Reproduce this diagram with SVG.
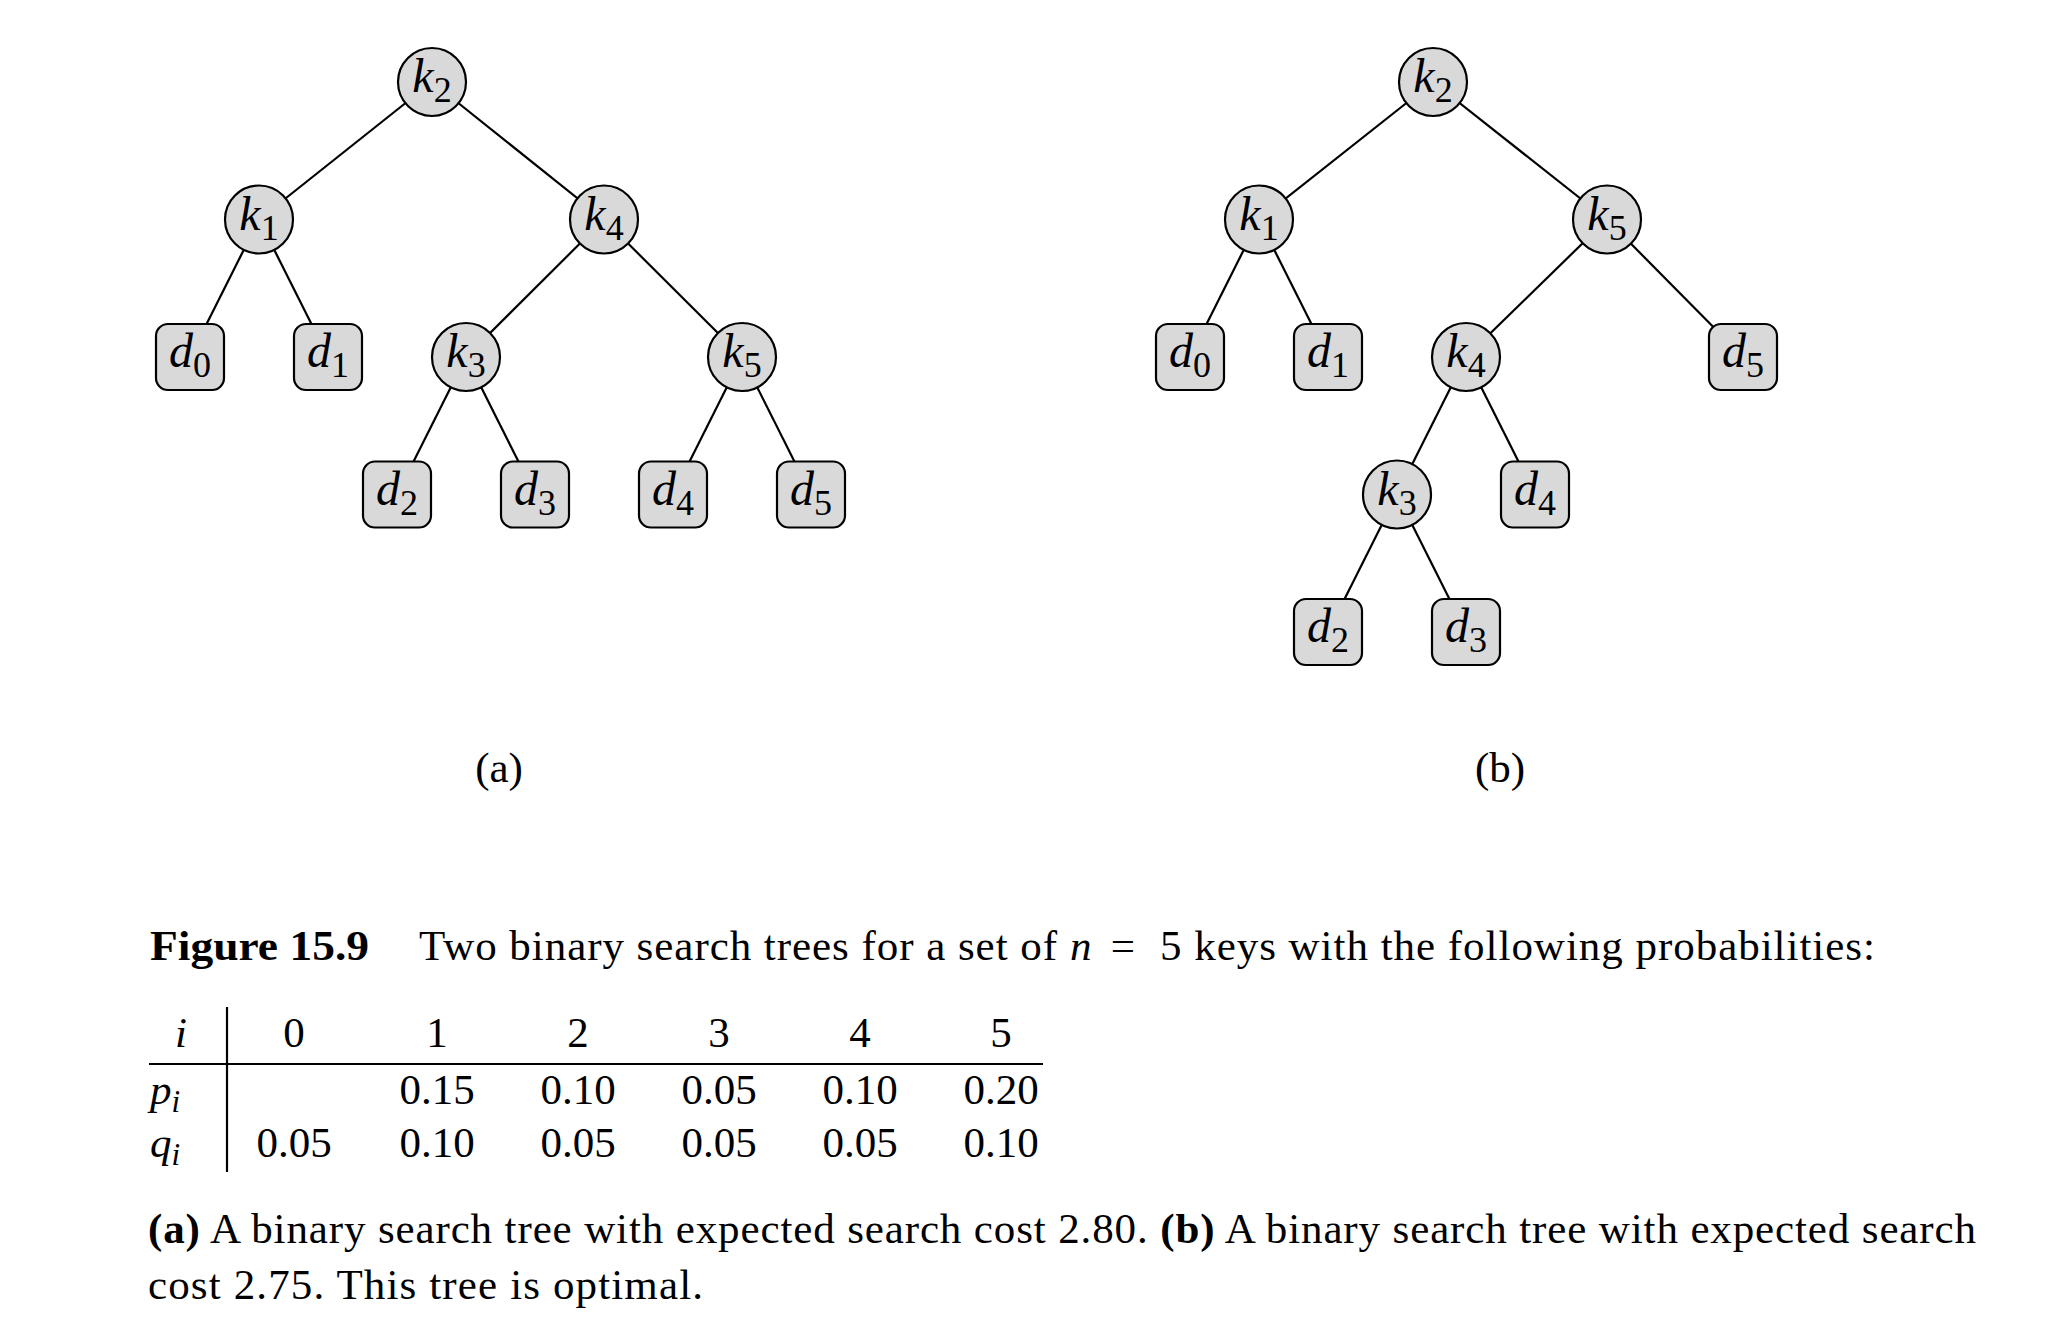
<svg xmlns="http://www.w3.org/2000/svg" width="2052" height="1332" viewBox="0 0 2052 1332">
<style>
.edge{stroke:#000;stroke-width:2.2;fill:none}
.kn{fill:#d9d9d9;stroke:#000;stroke-width:2.2}
.dn{fill:#d9d9d9;stroke:#000;stroke-width:2.2}
.lbl{font-family:'Liberation Serif','Times New Roman',Times,serif;font-size:48px;font-style:italic;text-anchor:middle;fill:#000}
.sub{font-style:normal;font-size:36px}
.t{font-family:'Liberation Serif','Times New Roman',Times,serif;font-size:43px;fill:#000}
.c{text-anchor:middle}
.it{font-style:italic}
.b{font-weight:bold}
.tsub{font-size:31px;font-style:italic}
.rule{stroke:#000;stroke-width:2.2}
</style>
<rect width="2052" height="1332" fill="#fff"/>
<g id="connectors">
<line class="edge" x1="432" y1="82" x2="259" y2="219.5"/>
<line class="edge" x1="432" y1="82" x2="604" y2="219.5"/>
<line class="edge" x1="259" y1="219.5" x2="190" y2="357"/>
<line class="edge" x1="259" y1="219.5" x2="328" y2="357"/>
<line class="edge" x1="604" y1="219.5" x2="466" y2="357"/>
<line class="edge" x1="604" y1="219.5" x2="742" y2="357"/>
<line class="edge" x1="466" y1="357" x2="397" y2="494.5"/>
<line class="edge" x1="466" y1="357" x2="535" y2="494.5"/>
<line class="edge" x1="742" y1="357" x2="673" y2="494.5"/>
<line class="edge" x1="742" y1="357" x2="811" y2="494.5"/>
<line class="edge" x1="1433" y1="82" x2="1259" y2="219.5"/>
<line class="edge" x1="1433" y1="82" x2="1607" y2="219.5"/>
<line class="edge" x1="1259" y1="219.5" x2="1190" y2="357"/>
<line class="edge" x1="1259" y1="219.5" x2="1328" y2="357"/>
<line class="edge" x1="1607" y1="219.5" x2="1466" y2="357"/>
<line class="edge" x1="1607" y1="219.5" x2="1743" y2="357"/>
<line class="edge" x1="1466" y1="357" x2="1397" y2="494.5"/>
<line class="edge" x1="1466" y1="357" x2="1535" y2="494.5"/>
<line class="edge" x1="1397" y1="494.5" x2="1328" y2="632"/>
<line class="edge" x1="1397" y1="494.5" x2="1466" y2="632"/>
</g>
<g id="tree-a">
<g id="a-k2"><circle class="kn" cx="432" cy="82" r="34"/><text class="lbl" x="432" y="92">k<tspan class="sub" dy="10">2</tspan></text></g>
<g id="a-k1"><circle class="kn" cx="259" cy="219.5" r="34"/><text class="lbl" x="259" y="229.5">k<tspan class="sub" dy="10">1</tspan></text></g>
<g id="a-k4"><circle class="kn" cx="604" cy="219.5" r="34"/><text class="lbl" x="604" y="229.5">k<tspan class="sub" dy="10">4</tspan></text></g>
<g id="a-d0"><rect class="dn" x="156" y="324" width="68" height="66" rx="12"/><text class="lbl" x="190" y="367">d<tspan class="sub" dy="10">0</tspan></text></g>
<g id="a-d1"><rect class="dn" x="294" y="324" width="68" height="66" rx="12"/><text class="lbl" x="328" y="367">d<tspan class="sub" dy="10">1</tspan></text></g>
<g id="a-k3"><circle class="kn" cx="466" cy="357" r="34"/><text class="lbl" x="466" y="367">k<tspan class="sub" dy="10">3</tspan></text></g>
<g id="a-k5"><circle class="kn" cx="742" cy="357" r="34"/><text class="lbl" x="742" y="367">k<tspan class="sub" dy="10">5</tspan></text></g>
<g id="a-d2"><rect class="dn" x="363" y="461.5" width="68" height="66" rx="12"/><text class="lbl" x="397" y="504.5">d<tspan class="sub" dy="10">2</tspan></text></g>
<g id="a-d3"><rect class="dn" x="501" y="461.5" width="68" height="66" rx="12"/><text class="lbl" x="535" y="504.5">d<tspan class="sub" dy="10">3</tspan></text></g>
<g id="a-d4"><rect class="dn" x="639" y="461.5" width="68" height="66" rx="12"/><text class="lbl" x="673" y="504.5">d<tspan class="sub" dy="10">4</tspan></text></g>
<g id="a-d5"><rect class="dn" x="777" y="461.5" width="68" height="66" rx="12"/><text class="lbl" x="811" y="504.5">d<tspan class="sub" dy="10">5</tspan></text></g>
</g>
<g id="tree-b">
<g id="b-k2"><circle class="kn" cx="1433" cy="82" r="34"/><text class="lbl" x="1433" y="92">k<tspan class="sub" dy="10">2</tspan></text></g>
<g id="b-k1"><circle class="kn" cx="1259" cy="219.5" r="34"/><text class="lbl" x="1259" y="229.5">k<tspan class="sub" dy="10">1</tspan></text></g>
<g id="b-k5"><circle class="kn" cx="1607" cy="219.5" r="34"/><text class="lbl" x="1607" y="229.5">k<tspan class="sub" dy="10">5</tspan></text></g>
<g id="b-d0"><rect class="dn" x="1156" y="324" width="68" height="66" rx="12"/><text class="lbl" x="1190" y="367">d<tspan class="sub" dy="10">0</tspan></text></g>
<g id="b-d1"><rect class="dn" x="1294" y="324" width="68" height="66" rx="12"/><text class="lbl" x="1328" y="367">d<tspan class="sub" dy="10">1</tspan></text></g>
<g id="b-k4"><circle class="kn" cx="1466" cy="357" r="34"/><text class="lbl" x="1466" y="367">k<tspan class="sub" dy="10">4</tspan></text></g>
<g id="b-d5"><rect class="dn" x="1709" y="324" width="68" height="66" rx="12"/><text class="lbl" x="1743" y="367">d<tspan class="sub" dy="10">5</tspan></text></g>
<g id="b-k3"><circle class="kn" cx="1397" cy="494.5" r="34"/><text class="lbl" x="1397" y="504.5">k<tspan class="sub" dy="10">3</tspan></text></g>
<g id="b-d4"><rect class="dn" x="1501" y="461.5" width="68" height="66" rx="12"/><text class="lbl" x="1535" y="504.5">d<tspan class="sub" dy="10">4</tspan></text></g>
<g id="b-d2"><rect class="dn" x="1294" y="599" width="68" height="66" rx="12"/><text class="lbl" x="1328" y="642">d<tspan class="sub" dy="10">2</tspan></text></g>
<g id="b-d3"><rect class="dn" x="1432" y="599" width="68" height="66" rx="12"/><text class="lbl" x="1466" y="642">d<tspan class="sub" dy="10">3</tspan></text></g>
</g>
<g id="labels">
<text class="t c" x="499" y="782">(a)</text>
<text class="t c" x="1500" y="782">(b)</text>
</g>
<g id="caption">
<text class="t b" x="150" y="960" textLength="219" lengthAdjust="spacingAndGlyphs">Figure 15.9</text>
<text class="t" x="419" y="960" textLength="638">Two binary search trees for a set of</text>
<text class="t it" x="1070" y="960">n</text>
<text class="t c" x="1123" y="960">=</text>
<text class="t" x="1160" y="960" textLength="715">5 keys with the following probabilities:</text>
<text class="t" x="148" y="1243" textLength="1828"><tspan class="b">(a)</tspan> A binary search tree with expected search cost 2.80. <tspan class="b">(b)</tspan> A binary search tree with expected search</text>
<text class="t" x="148" y="1299" textLength="555">cost 2.75. This tree is optimal.</text>
</g>
<g id="table">
<line class="rule" x1="227" y1="1007" x2="227" y2="1172"/>
<line class="rule" x1="149" y1="1064" x2="1043" y2="1064"/>
<text class="t it c" x="181" y="1047">i</text>
<text class="t c" x="294" y="1047">0</text>
<text class="t c" x="437" y="1047">1</text>
<text class="t c" x="578" y="1047">2</text>
<text class="t c" x="719" y="1047">3</text>
<text class="t c" x="860" y="1047">4</text>
<text class="t c" x="1001" y="1047">5</text>
<text class="t it" x="150" y="1104">p<tspan class="tsub" dy="8">i</tspan></text>
<text class="t c" x="437" y="1104">0.15</text>
<text class="t c" x="578" y="1104">0.10</text>
<text class="t c" x="719" y="1104">0.05</text>
<text class="t c" x="860" y="1104">0.10</text>
<text class="t c" x="1001" y="1104">0.20</text>
<text class="t it" x="150" y="1157">q<tspan class="tsub" dy="8">i</tspan></text>
<text class="t c" x="294" y="1157">0.05</text>
<text class="t c" x="437" y="1157">0.10</text>
<text class="t c" x="578" y="1157">0.05</text>
<text class="t c" x="719" y="1157">0.05</text>
<text class="t c" x="860" y="1157">0.05</text>
<text class="t c" x="1001" y="1157">0.10</text>
</g>
</svg>
